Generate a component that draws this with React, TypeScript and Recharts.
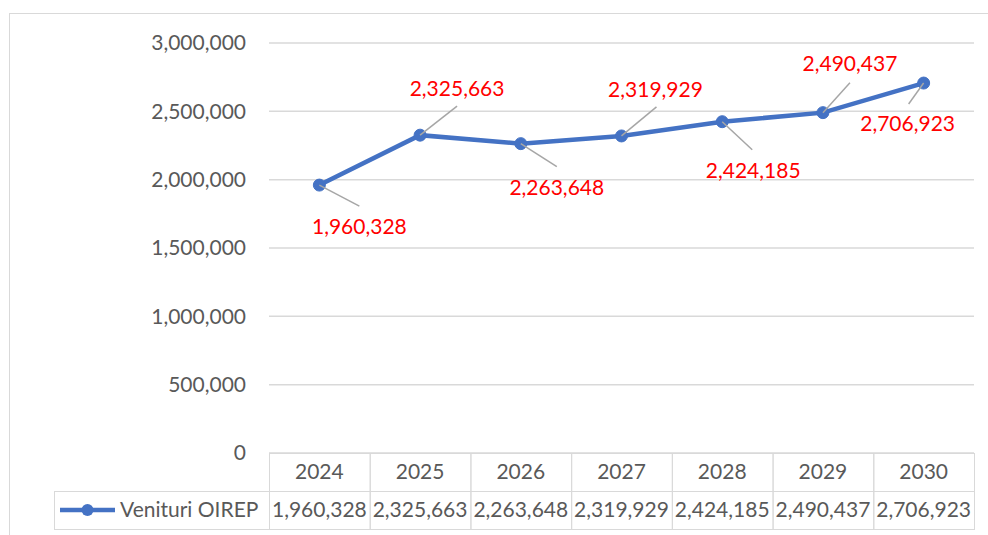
import React from "react";
import { LineChart, Line, XAxis, YAxis, CartesianGrid, LabelList } from "recharts";

const years = ["2024", "2025", "2026", "2027", "2028", "2029", "2030"];
const venituri = [1960328, 2325663, 2263648, 2319929, 2424185, 2490437, 2706923];
const yTicks = [0, 500000, 1000000, 1500000, 2000000, 2500000, 3000000];
const seriesName = "Venituri OIREP";

const data = years.map((y, i) => ({ year: y, value: venituri[i] }));

// label placement (layout only): offset of label centre and leader-line end from the point
const labelLayout = [
  { dx: 40, dy: 42, lx: 40, ly: 21 },
  { dx: 37, dy: -47, lx: 37, ly: -29 },
  { dx: 36, dy: 44, lx: 36, ly: 23 },
  { dx: 34, dy: -46, lx: 35, ly: -29 },
  { dx: 31, dy: 49, lx: 30, ly: 28 },
  { dx: 27, dy: -49, lx: 27, ly: -30 },
  { dx: -16, dy: 41, lx: -15, ly: 21 },
];

const W = 988;
const H = 535;
const PLOT_LEFT = 269;
const PLOT_RIGHT = 974;
const PLOT_TOP = 43;
const PLOT_BOTTOM = 453;
const ROW_H = 38;
const CELL_W = (PLOT_RIGHT - PLOT_LEFT) / years.length;
const FONT = "Lato, 'Open Sans', sans-serif";
const TXT = "#595959";
const BORDER = "#D9D9D9";
const BLUE = "#4472C4";
const FS = 21;

const fmt = (v: number) => v.toLocaleString("en-US");

const TableTick = (props: any) => {
  const { x, payload, index } = props;
  const top = PLOT_BOTTOM;
  const i = payload && typeof payload.index === "number" ? payload.index : index;
  const left = x - CELL_W / 2;
  return (
    <g>
      {i === 0 && (
        <g>
          <rect x={54.5} y={top + ROW_H + 0.5} width={PLOT_LEFT - 54} height={ROW_H} fill="none" stroke={BORDER} strokeWidth={1} />
          <line x1={60} x2={115} y1={top + ROW_H + 19} y2={top + ROW_H + 19} stroke={BLUE} strokeWidth={4.5} />
          <circle cx={87.5} cy={top + ROW_H + 19} r={6} fill={BLUE} />
          <text x={120} y={top + ROW_H + 19} dy="0.35em" fontFamily={FONT} fontSize={FS} fill={TXT} textAnchor="start">
            {seriesName}
          </text>
        </g>
      )}
      <rect x={left + 0.5} y={top + 0.5} width={CELL_W} height={ROW_H} fill="none" stroke={BORDER} strokeWidth={1} />
      <rect x={left + 0.5} y={top + ROW_H + 0.5} width={CELL_W} height={ROW_H} fill="none" stroke={BORDER} strokeWidth={1} />
      <text x={x} y={top + 19} dy="0.35em" fontFamily={FONT} fontSize={FS} fill={TXT} textAnchor="middle">
        {payload.value}
      </text>
      <text x={x} y={top + ROW_H + 19} dy="0.35em" fontFamily={FONT} fontSize={FS} fill={TXT} textAnchor="middle">
        {fmt(venituri[i])}
      </text>
    </g>
  );
};

const DataLabel = (props: any) => {
  const { x, y, value, index } = props;
  const l = labelLayout[index] || { dx: 0, dy: -20, lx: 0, ly: -10 };
  return (
    <g>
      <line x1={x} y1={y} x2={x + l.lx} y2={y + l.ly} stroke="#A6A6A6" strokeWidth={1.5} />
      <text x={x + l.dx} y={y + l.dy} dy="0.35em" textAnchor="middle" fontFamily={FONT} fontSize={FS} fill="#FF0000">
        {fmt(Number(value))}
      </text>
    </g>
  );
};

export default function App() {
  return (
    <div style={{ position: "relative", width: W, height: H, overflow: "hidden", background: "#fff" }}>
      <style>{`body{margin:0;}`}</style>
      <div
        style={{
          position: "absolute",
          left: 9,
          top: 13,
          width: W + 20,
          height: H + 20,
          border: `1px solid ${BORDER}`,
          boxSizing: "border-box",
        }}
      />
      <div style={{ position: "absolute", left: 0, top: 0 }}>
        <LineChart
          width={W}
          height={H}
          data={data}
          margin={{ top: PLOT_TOP, right: W - PLOT_RIGHT, bottom: 0, left: 0 }}
        >
          <CartesianGrid vertical={false} stroke={BORDER} strokeWidth={1.5} />
          <XAxis
            dataKey="year"
            axisLine={false}
            tickLine={false}
            tickSize={0}
            tickMargin={0}
            height={H - PLOT_BOTTOM}
            padding={{ left: CELL_W / 2, right: CELL_W / 2 }}
            interval={0}
            tick={<TableTick />}
          />
          <YAxis
            width={PLOT_LEFT}
            domain={[0, 3000000]}
            ticks={yTicks}
            axisLine={false}
            tickLine={false}
            tickSize={0}
            tickMargin={23}
            tickFormatter={fmt}
            tick={{ fill: TXT, fontSize: FS, fontFamily: FONT }}
            interval={0}
          />
          <Line
            type="linear"
            dataKey="value"
            stroke={BLUE}
            strokeWidth={4.5}
            dot={{ r: 6, fill: BLUE, stroke: BLUE, strokeWidth: 1 }}
            activeDot={false}
            isAnimationActive={false}
          >
            <LabelList dataKey="value" content={<DataLabel />} />
          </Line>
        </LineChart>
      </div>
    </div>
  );
}
